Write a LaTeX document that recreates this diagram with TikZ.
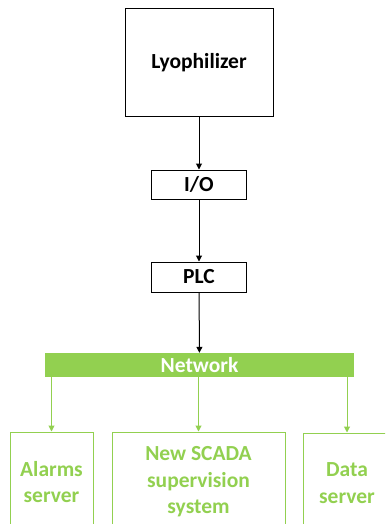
\documentclass[tikz,border=0pt]{standalone}
\usepackage{fontspec}
\setmainfont{Carlito}
\usetikzlibrary{arrows.meta}
\definecolor{netgreen}{HTML}{92D050}

\begin{document}
\begin{tikzpicture}[x=1pt,y=-1pt,
    box/.style={draw,line width=1pt,inner sep=0pt,font=\bfseries\fontsize{21.5}{24}\selectfont},
    gbox/.style={draw=netgreen,text=netgreen,line width=1pt,inner sep=0pt,align=center,
      font=\bfseries\fontsize{21.5}{26.5}\selectfont},
    >={Triangle[width=6pt,length=6pt]}]
  \clip (0,0) rectangle (385,524);
  % control chain
  \node [box,minimum width=148pt,minimum height=107pt] (lyo) at (199,62.5) {Lyophilizer};
  \node [box,minimum width=95pt,minimum height=29pt] (io) at (199,184.5) {I/O};
  \node [box,minimum width=95pt,minimum height=30pt] (plc) at (199,277) {PLC};
  \node [fill=netgreen,text=white,minimum width=309pt,minimum height=24pt,inner sep=0pt,
    font=\bfseries\fontsize{21.5}{24}\selectfont] (net) at (199.5,365) {Network};
  % servers
  \node [gbox,minimum width=83pt,minimum height=100pt] (alarms) at (51.5,482) {Alarms\\server};
  \node [gbox,minimum width=173pt,minimum height=100pt] (scada) at (198.5,482) {New SCADA\\supervision\\system};
  \node [gbox,minimum width=88pt,minimum height=100pt] (data) at (347,483) {Data\\server};
  \draw [->,line width=1pt] (lyo) -- (io);
  \draw [->,line width=1pt] (io) -- (plc);
  \draw [->,line width=1pt] (plc) -- (net);
  \foreach \n in {alarms,scada,data}
    \draw [->,netgreen,line width=1pt] (\n.north |- net.south) -- (\n.north);
\end{tikzpicture}
\end{document}
